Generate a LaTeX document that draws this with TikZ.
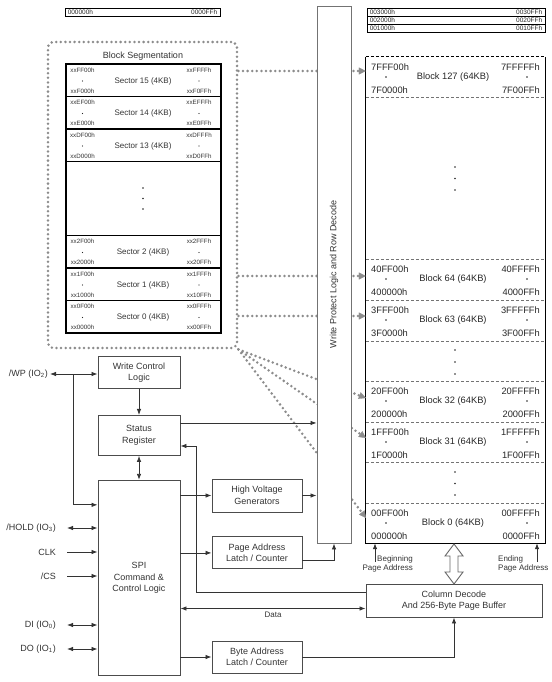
\documentclass[tikz,border=0pt]{standalone}
\usepackage{fontspec}
\setmainfont{Liberation Sans}
\usetikzlibrary{arrows.meta,positioning,calc}

\begin{document}
\begin{tikzpicture}[
    x=1pt, y=-1pt,
    >={Latex[length=6pt,width=4.5pt]},
    box/.style={
        rectangle,
        draw=black!70,
        line width=0.9pt,
        minimum height=32pt,
        minimum width=82pt,
        inner sep=1pt,
        align=center,
        text=black!80,
        font=\fontsize{9}{11.5}\selectfont
    },
    pinlabel/.style={
        inner sep=2pt,
        text=black!80,
        font=\fontsize{9}{11}\selectfont
    },
    smalltext/.style={
        inner sep=1pt,
        align=left,
        text=black!80,
        font=\fontsize{8}{9}\selectfont
    },
    blocktext/.style={
        inner sep=0pt,
        text=black!85,
        font=\fontsize{9.3}{10}\selectfont
    },
    sectext/.style={
        inner sep=0pt,
        text=black!80,
        font=\fontsize{8}{9}\selectfont
    },
    secaddr/.style={
        inner sep=0pt,
        text=black!80,
        font=\fontsize{6.2}{7}\selectfont
    },
    pageaddr/.style={
        inner sep=0pt,
        text=black!85,
        font=\fontsize{6.5}{7}\selectfont
    },
    pagebox/.style={
        rectangle,
        draw=black,
        line width=0.9pt,
        inner sep=0pt
    },
    arrow/.style={
        ->,
        line width=0.8pt,
        draw=black!80
    },
    dotline/.style={
        draw=black!45,
        line width=2.8pt,
        dash pattern=on 0pt off 4.6pt,
        line cap=round
    },
    dotarrow/.style={
        dotline,
        -{Triangle[length=7pt,width=7pt,line width=0.3pt]}
    },
    segbox/.style={
        dotline,
        rectangle,
        rounded corners=6pt,
        minimum width=189pt,
        minimum height=306pt
    },
    blocksep/.style={
        draw=black!55,
        densely dashed,
        line width=0.6pt
    },
    dot/.style={
        fill=black!85
    }
]
\useasboundingbox (0,0) rectangle (551,682);

% Page rows
\node[pagebox, minimum width=155pt, minimum height=8.4pt] (pg0) at (142.5,12.5) {};
\node[pageaddr, anchor=west] at ([xshift=3pt]pg0.west) {000000h};
\node[pageaddr, anchor=east] at ([xshift=-3pt]pg0.east) {0000FFh};
\foreach \r/\a in {0/3,1/2,2/1} {
    \node[pagebox, minimum width=178pt, minimum height=8pt] (pg\a) at (456,12.3+8*\r) {};
    \node[pageaddr, anchor=west] at ([xshift=3pt]pg\a.west) {00\a 000h};
    \node[pageaddr, anchor=east] at ([xshift=-3pt]pg\a.east) {00\a 0FFh};
}

% Block Segmentation
\node[segbox] (seg) at (142.5,195) {};
\node[font=\fontsize{9}{10}\selectfont, text=black!80, inner sep=0pt] at (143,56.5) {Block Segmentation};
\node[draw=black, line width=1.2pt, minimum width=155pt, minimum height=269pt, inner sep=0pt] (sectab) at (143.5,198.5) {};
\foreach \y in {96.5,129,161.5,235.5,268,300.5}
    \draw[black, line width=1.2pt] (sectab.west |- 0,\y) -- (sectab.east |- 0,\y);
\foreach \ty/\n/\h in {64/15/F, 96.5/14/E, 129/13/D, 235.5/2/2, 268/1/1, 300.5/0/0} {
    \node[secaddr] at (82.5,\ty+6) {xx\h F00h};
    \fill[dot] (82.5,\ty+17) circle (0.7pt);
    \node[secaddr] at (82.5,\ty+27) {xx\h 000h};
    \node[sectext] at (143,\ty+17) {Sector \n\ (4KB)};
    \node[secaddr] at (199,\ty+6) {xx\h FFFh};
    \fill[dot] (199,\ty+17) circle (0.7pt);
    \node[secaddr] at (199,\ty+27) {xx\h 0FFh};
}
\foreach \y in {188,198.5,209}
    \fill[dot] (143,\y) circle (0.9pt);

% Memory array
\node[minimum width=179pt, minimum height=486pt, inner sep=0pt] (array) at (455.5,300) {};
\foreach \y in {97,259,300,341,381,422,462,503}
    \draw[blocksep] (array.west |- 0,\y) -- (array.east |- 0,\y);
\draw[black, line width=1.2pt] (array.north west) -- (array.south west) -- (array.south east) -- (array.north east);
\draw[black, densely dashed, line width=0.8pt] (array.north west) -- (array.north east);
\foreach \ty/\blk/\pre in {57/127/7F, 259/64/40, 300/63/3F, 381/32/20, 422/31/1F, 503/0/00} {
    \node[blocktext, anchor=west] at (371,\ty+10) {\pre FF00h};
    \fill[dot] (386,\ty+20) circle (0.8pt);
    \node[blocktext, anchor=west] at (371,\ty+33) {\pre 0000h};
    \node[blocktext] at (453,\ty+20) {Block \blk\ (64KB)};
    \node[blocktext, anchor=east] at (540,\ty+10) {\pre FFFFh};
    \fill[dot] (527,\ty+20) circle (0.8pt);
    \node[blocktext, anchor=east] at (540,\ty+33) {\pre 00FFh};
}
\foreach \y in {167,178.5,190, 350,362,374, 472,483.5,495}
    \fill[dot] (455,\y) circle (0.9pt);

% Sector to block mapping
\coordinate (d127) at (0,71);
\coordinate (d64) at (0,276);
\coordinate (d63) at (0,316);
\coordinate (b32) at (366,398);
\coordinate (b31) at (366,438);
\coordinate (b0) at (366,518);
\draw[dotarrow] (seg.east |- d127) -- (array.west |- d127);
\draw[dotarrow] (seg.east |- d64) -- (array.west |- d64);
\draw[dotarrow] (seg.east |- d63) -- (array.west |- d63);
\draw[dotarrow] (seg.south east) -- (b32);
\draw[dotarrow] (seg.south east) -- (b31);
\draw[dotarrow] (seg.south east) -- (b0);

% Row decode
\node[box, draw=black!55, fill=white, minimum width=34pt, minimum height=537pt] (wprd) at (334,274.5) {};
\node[rotate=90, text=black!80, font=\fontsize{9}{10}\selectfont] at (wprd.center) {Write Protect Logic and Row Decode};

% Control blocks
\node[box] (wcl) at (139,372.5) {Write Control\\Logic};
\node[box, minimum height=40pt, below=26pt of wcl] (status) {Status\\Register};
\node[box, minimum height=195pt, below=24pt of status] (spi) {SPI\\Command \&\\Control Logic};
\node[box, minimum width=90pt, minimum height=33pt] (hvg) at (257,495.5) {High Voltage\\Generators};
\node[box, minimum width=90pt, below=24pt of hvg] (pal) {Page Address\\Latch / Counter};
\node[box, minimum width=90pt] (bal) at (257,657) {Byte Address\\Latch / Counter};
\node[box, minimum width=176pt, minimum height=33pt] (coldec) at (454,600.5) {Column Decode\\And 256-Byte Page Buffer};

% Pins
\node[pinlabel, anchor=east] (wp) at (50,374) {/WP (IO\textsubscript{2})};
\node[pinlabel, anchor=east] (hold) at (58,528) {/HOLD (IO\textsubscript{3})};
\node[pinlabel, anchor=east] (clk) at (58,552) {CLK};
\node[pinlabel, anchor=east] (cs) at (58,576) {/CS};
\node[pinlabel, anchor=east] (din) at (58,625) {DI (IO\textsubscript{0})};
\node[pinlabel, anchor=east] (dout) at (58,649) {DO (IO\textsubscript{1})};

% Pin connections
\coordinate (wpj) at (73,374);
\draw[arrow, <->] (wp.east) -- (wp.east -| wcl.west);
\draw[arrow] (wpj) |- ([yshift=-25pt]spi.north west);
\draw[arrow, <->] ([xshift=9pt]hold.east) -- (hold -| spi.west);
\draw[arrow] ([xshift=9pt]clk.east) -- (clk -| spi.west);
\draw[arrow] ([xshift=9pt]cs.east) -- (cs -| spi.west);
\draw[arrow, <->] ([xshift=9pt]din.east) -- (din -| spi.west);
\draw[arrow, <->] ([xshift=9pt]dout.east) -- (dout -| spi.west);

% Internal connections
\draw[arrow] (wcl) -- (status);
\draw[arrow, <->] (status) -- (spi);
\coordinate (srout) at ([yshift=-8pt]status.north east);
\draw[arrow] (srout) -- (srout -| wprd.west);
\draw[arrow] (spi.east |- hvg) -- (hvg);
\draw[arrow] (hvg) -- (hvg -| wprd.west);
\draw[arrow] (spi.east |- pal) -- (pal);
\draw[arrow] (spi.east |- bal) -- (bal);
\coordinate (palout) at ([yshift=-7pt]pal.east);
\draw[arrow] (palout) -| (wprd.south);
\draw[arrow] (bal.east) -| (coldec.south);
\coordinate (srback) at (196,446);
\draw[arrow] ([yshift=8.5pt]coldec.west) -| (srback) -- (srback -| status.east);
\coordinate (dataend) at ([yshift=-8pt]coldec.west);
\draw[arrow, <->] (dataend) -- (dataend -| spi.east) node[midway, below=2pt, smalltext] {Data};

% Page address pointers
\coordinate (begpt) at (375,562);
\coordinate (endpt) at (537,562);
\draw[arrow] (begpt) -- (begpt |- array.south);
\draw[arrow] (endpt) -- (endpt |- array.south);
\node[smalltext, align=right, anchor=north east] (begpa) at (414,554) {Beginning\\Page Address};
\node[smalltext, anchor=north west] (endpa) at (497,554) {Ending\\Page Address};

% Array to page buffer
\coordinate (dtop) at (coldec.north |- array.south);
\draw[draw=black!60, line width=0.9pt, fill=white] ([yshift=-0.8pt]dtop) -- ++(9,12) -- ++(-5,0) -- ++(0,16) -- ++(5,0) -- ++(-9,12) -- ++(-9,-12) -- ++(5,0) -- ++(0,-16) -- ++(-5,0) -- cycle;

\end{tikzpicture}
\end{document}
